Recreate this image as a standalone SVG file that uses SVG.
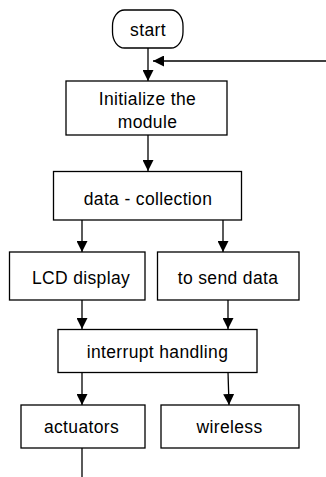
<svg xmlns="http://www.w3.org/2000/svg" width="326" height="477" viewBox="0 0 326 477">
<style>
.box{fill:#fff;stroke:#000;stroke-width:1.3}
.lbl{font-family:"Liberation Sans",Arial,sans-serif;font-size:17.5px;letter-spacing:0.35px;fill:#000;text-anchor:middle}
.edge{fill:none;stroke:#000;stroke-width:1.3}
</style>
<defs>
<marker id="arr" markerUnits="userSpaceOnUse" markerWidth="11" markerHeight="11" refX="11" refY="5.5" orient="auto">
<path d="M0,0 L11,5.5 L0,11 z" fill="#000"/>
</marker>
</defs>
<rect width="326" height="477" fill="#fff"/>
<g id="connectors">
<line class="edge" x1="148" y1="48" x2="148" y2="81" marker-end="url(#arr)"/>
<line class="edge" x1="326" y1="61" x2="153" y2="61" marker-end="url(#arr)"/>
<line class="edge" x1="148" y1="135" x2="148" y2="171" marker-end="url(#arr)"/>
<line class="edge" x1="82" y1="220" x2="82" y2="252" marker-end="url(#arr)"/>
<line class="edge" x1="223" y1="220" x2="223" y2="252" marker-end="url(#arr)"/>
<line class="edge" x1="82" y1="300" x2="82" y2="329" marker-end="url(#arr)"/>
<line class="edge" x1="228" y1="300" x2="228" y2="329" marker-end="url(#arr)"/>
<line class="edge" x1="82" y1="372" x2="82" y2="405" marker-end="url(#arr)"/>
<line class="edge" x1="228" y1="372" x2="229" y2="405" marker-end="url(#arr)"/>
<line class="edge" x1="82" y1="448" x2="82" y2="477"/>
</g>
<g id="start">
<rect class="box" x="112.5" y="10" width="70.5" height="38" rx="12" ry="16"/>
<text class="lbl" x="148" y="35.5">start</text>
</g>
<g id="init">
<rect class="box" x="66" y="81" width="161" height="54"/>
<text class="lbl" x="147.5" y="105">Initialize the</text>
<text class="lbl" x="147.5" y="128">module</text>
</g>
<g id="data">
<rect class="box" x="53.5" y="171.5" width="188" height="48.5"/>
<text class="lbl" x="148" y="205">data - collection</text>
</g>
<g id="lcd">
<rect class="box" x="9.5" y="252" width="135.5" height="48"/>
<text class="lbl" x="81" y="284">LCD display</text>
</g>
<g id="send">
<rect class="box" x="157.5" y="252" width="141.5" height="48"/>
<text class="lbl" x="228" y="284">to send data</text>
</g>
<g id="interrupt">
<rect class="box" x="58" y="329.5" width="199" height="43"/>
<text class="lbl" x="157.5" y="358">interrupt handling</text>
</g>
<g id="actuators">
<rect class="box" x="21" y="405" width="124" height="43"/>
<text class="lbl" x="81.5" y="433">actuators</text>
</g>
<g id="wireless">
<rect class="box" x="161" y="405" width="138" height="43"/>
<text class="lbl" x="229.5" y="433">wireless</text>
</g>
</svg>
